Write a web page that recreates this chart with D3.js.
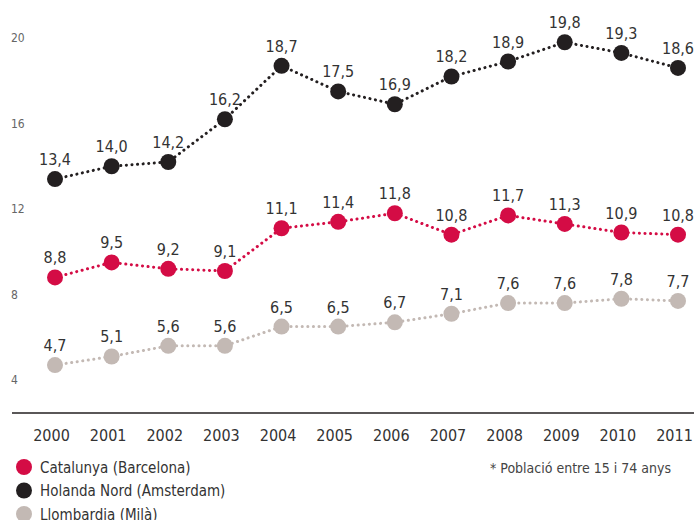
<!DOCTYPE html>
<html>
<head>
<meta charset="utf-8">
<script src="https://cdn.jsdelivr.net/npm/d3@7"></script>
<style>
  body { margin: 0; background: #fff; }
  svg text { font-family: "DejaVu Sans Condensed", "Roboto", sans-serif; }
</style>
</head>
<body>
<div id="chart"></div>
<script>
// dades
var years = [2000, 2001, 2002, 2003, 2004, 2005, 2006, 2007, 2008, 2009, 2010, 2011];
var catalunya = [8.8, 9.5, 9.2, 9.1, 11.1, 11.4, 11.8, 10.8, 11.7, 11.3, 10.9, 10.8];
var holanda = [13.4, 14.0, 14.2, 16.2, 18.7, 17.5, 16.9, 18.2, 18.9, 19.8, 19.3, 18.6];
var llombardia = [4.7, 5.1, 5.6, 5.6, 6.5, 6.5, 6.7, 7.1, 7.6, 7.6, 7.8, 7.7];
var yTicks = [4, 8, 12, 16, 20];
var seriesNames = ["Catalunya (Barcelona)", "Holanda Nord (Amsterdam)", "Llombardia (Milà)"];

var colors = ["#d40c45", "#231f20", "#c3b9b4"];
var w = 694, h = 520;

var svg = d3.select("#chart").append("svg")
  .attr("width", w)
  .attr("height", h);

var x = d3.scalePoint().domain(years).range([55, 678]);
var y = d3.scaleLinear().domain([4, 20]).range([380, 38]);
var fmt = function(v) { return d3.format(".1f")(v).replace(".", ","); };

// eix y (només etiquetes)
svg.append("g").selectAll("text")
  .data(yTicks)
  .enter().append("text")
  .attr("x", 11)
  .attr("y", function(d) { return y(d) + 4; })
  .attr("font-size", 12)
  .attr("fill", "#666")
  .text(function(d) { return d; });

// eix x
svg.append("line")
  .attr("x1", 12).attr("x2", w)
  .attr("y1", 413).attr("y2", 413)
  .attr("stroke", "#231f20").attr("stroke-width", 1.3);

var xAxis = d3.axisBottom(x).tickSize(0).tickPadding(0);
var gx = svg.append("g").attr("transform", "translate(-4,426)").call(xAxis);
gx.select(".domain").remove();
gx.selectAll("text")
  .attr("font-size", 16)
  .attr("fill", "#333")
  .attr("dy", "0.95em");

var series = [holanda, catalunya, llombardia];
var order = [1, 0, 2];

var line = d3.line()
  .x(function(d, i) { return x(years[i]); })
  .y(function(d) { return y(d); });

series.forEach(function(vals, k) {
  var c = colors[order[k]];
  var g = svg.append("g");
  g.append("path")
    .datum(vals)
    .attr("d", line)
    .attr("fill", "none")
    .attr("stroke", c)
    .attr("stroke-width", 3)
    .attr("stroke-linecap", "round")
    .attr("stroke-dasharray", "0.1,5.5");
  g.selectAll("circle")
    .data(vals)
    .enter().append("circle")
    .attr("cx", function(d, i) { return x(years[i]); })
    .attr("cy", function(d) { return y(d); })
    .attr("r", 8)
    .attr("fill", c);
  g.selectAll("text")
    .data(vals)
    .enter().append("text")
    .attr("x", function(d, i) { return x(years[i]); })
    .attr("y", function(d) { return y(d) - 14; })
    .attr("text-anchor", "middle")
    .attr("font-size", 16)
    .attr("fill", "#333")
    .text(fmt);
});

// llegenda
var leg = svg.append("g").selectAll("g")
  .data(seriesNames)
  .enter().append("g")
  .attr("transform", function(d, i) { return "translate(24," + (467 + i * 23.5) + ")"; });
leg.append("circle")
  .attr("r", 8)
  .attr("fill", function(d, i) { return colors[i]; });
leg.append("text")
  .attr("x", 16)
  .attr("y", 5.5)
  .attr("font-size", 15)
  .attr("fill", "#333")
  .text(function(d) { return d; });

svg.append("text")
  .attr("x", 671)
  .attr("y", 473)
  .attr("text-anchor", "end")
  .attr("font-size", 14)
  .attr("fill", "#444")
  .text("* Població entre 15 i 74 anys");
</script>
</body>
</html>
